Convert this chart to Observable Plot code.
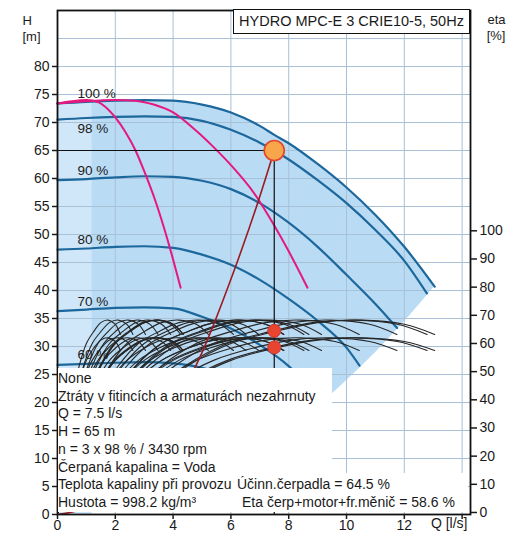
<!DOCTYPE html>
<html><head><meta charset="utf-8">
<script src="https://cdn.jsdelivr.net/npm/d3@7"></script>
<script src="https://cdn.jsdelivr.net/npm/@observablehq/plot@0.6"></script>
<style>
body{margin:0;background:#fff;font-family:"Liberation Sans",Arial,sans-serif;color:#1a1a1a;}
#wrap{position:relative;width:518px;height:533px;overflow:hidden;}
.wbox{position:absolute;background:#fff;}
.ln{position:absolute;font-size:14px;line-height:17px;white-space:nowrap;}
#title{position:absolute;left:233px;top:9px;width:235px;height:23px;border:1.5px solid #111;background:#fff;font-size:14.5px;line-height:23px;text-align:center;box-sizing:content-box;}
</style></head><body><div id="wrap"></div>
<script>
// ---- head curves (Q [l/s], H [m]) for 3 pumps at each speed ----
const q100 = [0,1,2,3,4,5,6,7,7.5,8,9,10,11,12,13.05];
const h100 = [73.4,73.7,73.9,74.0,73.9,73.2,71.8,69.4,67.8,66.3,62.6,58.4,53.5,47.8,40.7];
const q98  = [0,1,2,3,4,5,6,7,7.5,8,9,10,11,12,12.78];
const h98  = [70.5,70.8,71.0,71.1,71.0,70.3,68.7,66.4,65.0,63.4,59.7,55.6,50.8,45.3,39.5];
const q90  = [0,1,2,3,4,5,6,7,8,9,10,11,11.75];
const h90  = [59.7,59.9,60.2,60.4,60.3,59.6,58.1,55.6,52.1,47.8,42.8,37.6,33.3];
const q80  = [0,1,2,3,4,5,6,7,8,9,10,10.45];
const h80  = [47.3,47.5,47.8,47.9,47.6,46.4,44.6,41.9,38.5,34.6,29.8,26.6];
const q70  = [0,1,2,3,4,5,6,7,8,9.14];
const h70  = [36.3,36.6,36.9,37.0,36.8,35.3,33.2,30.3,26.5,20.2];
const q60  = [0,1,2,3,4,5,6,7,7.83];
const h60  = [26.7,26.9,27.1,27.2,27.0,26.2,24.4,21.0,14.7];
const speedLabels = ["100 %","98 %","90 %","80 %","70 %","60 %"];
// 1 pump and 2 pumps at 100 % (pink)
const q1p = [0,0.5,1.0,1.42,1.7,2.0,2.35,2.7,3.0,3.4,3.8,4.26];
const h1p = [73.4,73.8,74.0,73.6,72.6,70.9,68.3,65.0,61.3,55.8,49.2,40.5];
const q2p = [0,1,2,2.67,3.33,4,4.78,5.4,6.0,6.8,7.5,8.0,8.65];
const h2p = [73.4,73.8,74.0,73.9,73.2,71.8,68.6,65.6,62.4,57.4,51.6,47.0,40.5];
// system curve
const sysQ = [0,1,2,3,4,5,6,7,7.5];
const sysH = [0,1.2,4.6,10.4,18.5,28.9,42.0,56.8,65];
// operating range right limit (end of curves)
const endQ = [0,1,2,3,4,5,6,7,7.5,8,9,10,11,12,13.05];
const endH = [0,0.24,0.96,2.15,3.8,6.0,8.6,11.7,13.4,15.3,19.3,23.9,28.9,34.4,40.7];
// lighter low-flow strip
const lightQ = [0,0.6,1.2];
const lightH = [73.4,73.6,73.75];
// efficiency curves: flow of one pump at 100 % speed, eta [%]
const etaFlow  = [0,0.5,1.0,1.5,2.0,2.5,3.0,3.5,4.0,4.35];
const etaPump  = [0,22,40,52,60,64.2,67.4,68.3,66.8,63.2];
const etaTotal = [0,19,35.5,46.5,54,58.3,61.2,62.0,60.7,57.5];
const etaSpeeds = [1.00,0.98,0.90,0.80,0.70,0.60,0.50];
const etaPumps = [1,2,3];
// duty point
const opQ = 7.5, opH = 65;
const opEta = [64.5, 58.6];
// ticks
const hTicks = [0,5,10,15,20,25,30,35,40,45,50,55,60,65,70,75,80];
const etaTicks = [0,10,20,30,40,50,60,70,80,90,100];
const qTicks = [0,2,4,6,8,10,12,14];
const gridQ = [2,4,6,8,10,12,14];
const gridH = [5,10,15,20,25,30,35,40,45,50,55,60,65,70,75,80,85];

const etaToH = e => 0.36 + e * 0.503;

const heads = [[q100,h100],[q98,h98],[q90,h90],[q80,h80],[q70,h70],[q60,h60]];
const headRows = heads.flatMap(([qs,hs],k) => qs.map((q,i)=>({c:speedLabels[k],Q:q,H:hs[i]})));
const labelRows = heads.map(([qs,hs],k)=>({t:speedLabels[k],Q:qs[0],H:hs[0]}));
const pinkRows = [[q1p,h1p],[q2p,h2p]].flatMap(([qs,hs],k)=>qs.map((q,i)=>({c:k,Q:q,H:hs[i]})));
const sysRows = sysQ.map((q,i)=>({Q:q,H:sysH[i]}));
const shadeRows = endQ.map((q,i)=>({Q:q,hi:h100[i],lo:endH[i]}));
const lightRows = lightQ.map((q,i)=>({Q:q,hi:lightH[i]}));
const etaRows = [];
for (const n of etaPumps) for (const s of etaSpeeds) {
  etaFlow.forEach((f,i)=>{
    etaRows.push({id:"p"+n+"_"+s,Q:f*n*s,H:etaToH(etaPump[i])});
    etaRows.push({id:"t"+n+"_"+s,Q:f*n*s,H:etaToH(etaTotal[i])});
  });
}
const etaLabel = new Map(etaTicks.map(e=>[etaToH(e),e]));

const plot = Plot.plot({
  width:518, height:533,
  marginLeft:57, marginRight:48, marginTop:10, marginBottom:19,
  x:{domain:[0,14.29]},
  y:{domain:[0,90]},
  style:{fontFamily:"Liberation Sans, Arial, sans-serif",fontSize:"14px",background:"transparent",color:"#1a1a1a"},
  marks:[
    Plot.areaY(shadeRows,{x:"Q",y1:"lo",y2:"hi",fill:"#b9dbf4",curve:"monotone-x"}),
    Plot.areaY(lightRows,{x:"Q",y1:0,y2:"hi",fill:"#cfe7f8",curve:"monotone-x"}),
    Plot.gridX(gridQ,{stroke:"#a9c1d7",strokeOpacity:1,strokeWidth:1}),
    Plot.gridY(gridH,{stroke:"#a9c1d7",strokeOpacity:1,strokeWidth:1}),
    Plot.line(headRows,{x:"Q",y:"H",z:"c",stroke:"#1c679c",strokeWidth:2.2,curve:"monotone-x"}),
    Plot.line(pinkRows,{x:"Q",y:"H",z:"c",stroke:"#e5187f",strokeWidth:2,curve:"monotone-x"}),
    Plot.line(etaRows,{x:"Q",y:"H",z:"id",stroke:"#262626",strokeWidth:1.1,curve:"catmull-rom",clip:true}),
    Plot.line(sysRows,{x:"Q",y:"H",stroke:"#9b1b22",strokeWidth:1.6,curve:"monotone-x"}),
    Plot.ruleY([opH],{x1:0,x2:opQ,stroke:"#111",strokeWidth:1.2}),
    Plot.ruleX([opQ],{y1:0,y2:opH,stroke:"#111",strokeWidth:1.2}),
    Plot.dot(opEta.map(e=>({Q:opQ,H:etaToH(e)})),{x:"Q",y:"H",r:6.5,fill:"#e8442f",stroke:"#d03a28",strokeWidth:1}),
    Plot.dot([{Q:opQ,H:opH}],{x:"Q",y:"H",r:10,fill:"#f7a64c",stroke:"#e5452c",strokeWidth:1.6}),
    Plot.text(labelRows.filter(d=>d.t!=="98 %"),{x:"Q",y:"H",text:"t",dx:20,dy:-10,textAnchor:"start",fontSize:13.5}),
    Plot.text(labelRows.filter(d=>d.t==="98 %"),{x:"Q",y:"H",text:"t",dx:20,dy:9,textAnchor:"start",fontSize:13.5}),
    Plot.frame({stroke:"#111",strokeWidth:1.8}),
    Plot.axisY(hTicks,{anchor:"left",tickSize:5,tickPadding:3,fontSize:14,label:null,strokeWidth:1.5}),
    Plot.axisY(etaTicks.map(etaToH),{anchor:"right",tickSize:6,tickPadding:3,fontSize:14,label:null,strokeWidth:1.5,tickFormat:d=>etaLabel.get(d)}),
    Plot.axisX(qTicks,{anchor:"bottom",tickSize:5,tickPadding:1,fontSize:14,label:null,strokeWidth:1.5,tickFormat:d=>d<14?d:""}),
    Plot.text(["Q [l/s]"],{frameAnchor:"bottom-right",dx:-3,dy:13,textAnchor:"end",fontSize:14}),
    Plot.text(["H"],{frameAnchor:"top-left",dx:-35,dy:5,fontSize:13}),
    Plot.text(["[m]"],{frameAnchor:"top-left",dx:-35,dy:21,fontSize:13}),
    Plot.text(["eta"],{frameAnchor:"top-right",dx:35,dy:4,fontSize:13}),
    Plot.text(["[%]"],{frameAnchor:"top-right",dx:35,dy:20,fontSize:13})
  ]
});
const wrap = document.getElementById("wrap");
wrap.appendChild(plot);

function div(cls, css, txt){const d=document.createElement("div");d.className=cls;Object.assign(d.style,css);if(txt!=null)d.textContent=txt;wrap.appendChild(d);return d;}
const t = div("", {}, "HYDRO MPC-E 3 CRIE10-5, 50Hz"); t.id="title";
div("wbox",{left:"58px",top:"368px",width:"274px",height:"106px"});
div("wbox",{left:"58px",top:"473px",width:"410px",height:"39px"});
const infoLeft = ["None","Ztráty v fitincích a armaturách nezahrnuty","Q = "+opQ+" l/s","H = "+opH+" m","n = 3 x 98 % / 3430 rpm","Čerpaná kapalina = Voda","Teplota kapaliny při provozu","Hustota = 998.2 kg/m³"];
const infoRight = ["Účinn.čerpadla = "+opEta[0]+" %","Eta čerp+motor+fr.měnič = "+opEta[1]+" %"];
infoLeft.forEach((s,i)=>div("ln",{left:"58px",top:(370+i*17.7)+"px"},s));
div("ln",{left:"237px",top:(370+6*17.7)+"px"},infoRight[0]);
div("ln",{left:"242px",top:(370+7*17.7)+"px"},infoRight[1]);
</script></body></html>
